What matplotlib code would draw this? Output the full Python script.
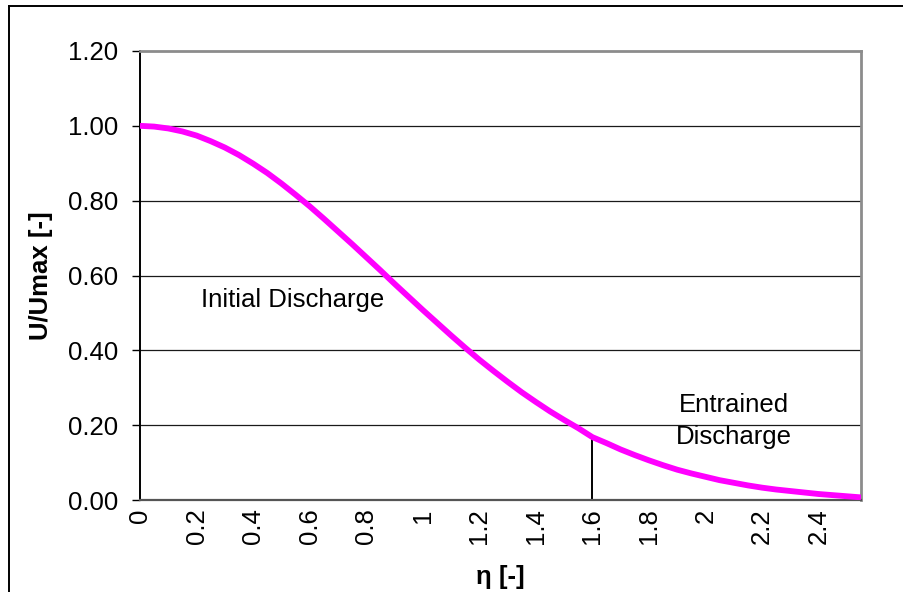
"""Velocity profile of a discharge: U/Umax against the similarity variable eta."""

import matplotlib
matplotlib.use("Agg")
import matplotlib.pyplot as plt
from matplotlib.lines import Line2D

plt.rcParams["font.family"] = ["Liberation Sans", "DejaVu Sans"]

# ── Data ────────────────────────────────────────────────────────────────────
eta = [0.00, 0.05, 0.10, 0.15, 0.20, 0.25, 0.30, 0.35, 0.40, 0.45,
       0.50, 0.55, 0.60, 0.65, 0.70, 0.75, 0.80, 0.85, 0.90, 0.95,
       1.00, 1.05, 1.10, 1.15, 1.20, 1.25, 1.30, 1.35, 1.40, 1.45,
       1.50, 1.55, 1.60, 1.65, 1.70, 1.75, 1.80, 1.85, 1.90, 1.95,
       2.00, 2.05, 2.10, 2.15, 2.20, 2.25, 2.30, 2.35, 2.40, 2.45,
       2.50, 2.55]
u_ratio = [1.000, 0.998, 0.993, 0.985, 0.974, 0.959, 0.942, 0.922, 0.899, 0.874,
           0.846, 0.816, 0.785, 0.752, 0.718, 0.684, 0.649, 0.614, 0.578, 0.543,
           0.508, 0.474, 0.440, 0.407, 0.375, 0.345, 0.316, 0.288, 0.262, 0.237,
           0.214, 0.192, 0.168, 0.152, 0.135, 0.120, 0.106, 0.093, 0.081, 0.071,
           0.062, 0.053, 0.046, 0.039, 0.033, 0.028, 0.024, 0.020, 0.016, 0.013,
           0.010, 0.007]

x_ticks = [0, 0.2, 0.4, 0.6, 0.8, 1.0, 1.2, 1.4, 1.6, 1.8, 2.0, 2.2, 2.4]
x_tick_labels = ["0", "0.2", "0.4", "0.6", "0.8", "1", "1.2", "1.4",
                 "1.6", "1.8", "2", "2.2", "2.4"]
y_ticks = [0.0, 0.2, 0.4, 0.6, 0.8, 1.0, 1.2]
y_tick_labels = ["0.00", "0.20", "0.40", "0.60", "0.80", "1.00", "1.20"]

eta_split = 1.6  # boundary between initial and entrained discharge

FS = 18.5

# ── Figure ──────────────────────────────────────────────────────────────────
fig = plt.figure(figsize=(9.04, 5.92), dpi=100)
fig.patch.set_facecolor("white")
ax = fig.add_axes([140 / 904, 1 - 500 / 592, 721 / 904, 449 / 592])

ax.set_xlim(0, 2.55)
ax.set_ylim(0, 1.2)

# horizontal gridlines
for y in y_ticks[1:-1]:
    ax.axhline(y, color="#1a1a1a", lw=0.9, zorder=1)

ax.plot(eta, u_ratio, color="#ff00ff", lw=4.2, solid_capstyle="butt", zorder=3)

# split marker at eta = 1.6
u_split = u_ratio[eta.index(eta_split)]
ax.vlines(eta_split, 0, u_split, color="black", lw=1.4, zorder=2)

ax.text(0.54, 0.535, "Initial Discharge", fontsize=FS, ha="center", va="center")
ax.text(2.10, 0.212, "Entrained\nDischarge", fontsize=FS, ha="center",
        va="center", linespacing=1.42)

# axes styling
ax.spines["left"].set_color("black")
ax.spines["left"].set_linewidth(1.4)
ax.spines["bottom"].set_color("#555555")
ax.spines["bottom"].set_linewidth(1.6)
for side in ("top", "right"):
    ax.spines[side].set_color("#8c8c8c")
    ax.spines[side].set_linewidth(2.0)

ax.set_yticks(y_ticks)
ax.set_yticklabels(y_tick_labels, fontsize=FS)
ax.tick_params(axis="y", direction="out", length=6, width=1.0, pad=10)

ax.set_xticks(x_ticks)
ax.set_xticklabels(x_tick_labels, fontsize=FS, rotation=90)
ax.tick_params(axis="x", length=0, pad=6)

ax.set_xlabel("η [-]", fontsize=FS, fontweight="bold")
ax.xaxis.set_label_coords(0.50, -0.172)
ax.xaxis.label.set_va("center")
ax.set_ylabel("U/Umax [-]", fontsize=FS, fontweight="bold")
ax.yaxis.set_label_coords(-0.138, 0.5)
ax.yaxis.label.set_va("center")

# outer chart frame (left and top edges fall inside the canvas)
fig.add_artist(Line2D([9 / 904, 9 / 904], [0, 1 - 6 / 592],
                      transform=fig.transFigure, color="black", lw=1.4))
fig.add_artist(Line2D([9 / 904, 1], [1 - 6 / 592, 1 - 6 / 592],
                      transform=fig.transFigure, color="black", lw=1.4))

fig.savefig("out.png", dpi=100, facecolor="white")
plt.close(fig)
